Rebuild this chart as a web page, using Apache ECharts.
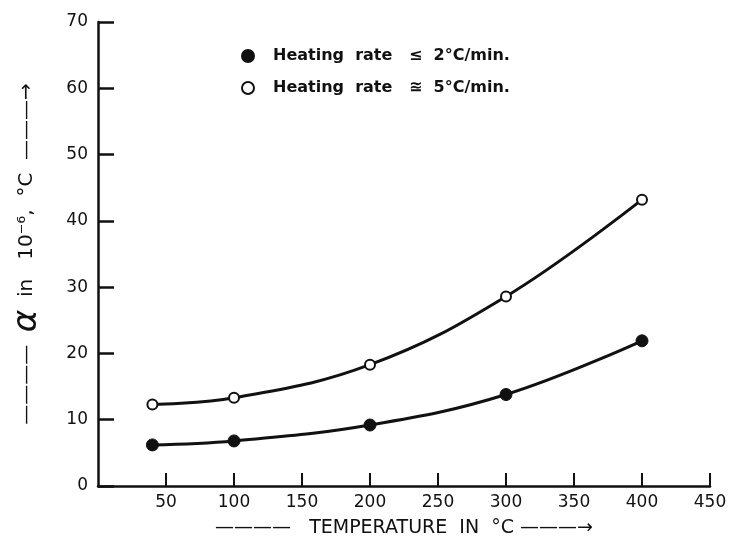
<!DOCTYPE html>
<html><head><meta charset="utf-8">
<script src="https://cdn.jsdelivr.net/npm/echarts@6/dist/echarts.min.js"></script>
<style>html,body{margin:0;padding:0;background:#fff}#c{width:733px;height:545px}</style>
</head><body><div id="c"></div>
<script>
const temps = [40, 100, 200, 300, 400];
const slowRate = [6.2, 6.8, 9.2, 13.8, 21.9];
const fastRate = [12.3, 13.3, 18.3, 28.6, 43.2];
const xTicks = [50, 100, 150, 200, 250, 300, 350, 400, 450];
const yTicks = [0, 10, 20, 30, 40, 50, 60, 70];
const seriesNames = ['Heating  rate   \u2264  2\u00B0C/min.', 'Heating  rate   \u224A  5\u00B0C/min.'];

const ink = '#111';
const font = 'DejaVu Sans';
const chart = echarts.init(document.getElementById('c'));
chart.setOption({
  backgroundColor: '#fff',
  animation: false,
  grid: { left: 98, right: 23, top: 22, bottom: 59, outerBoundsMode: 'none', containLabel: false },
  legend: {
    orient: 'vertical', left: 236, top: 43, itemGap: 16,
    icon: 'circle', itemWidth: 12, itemHeight: 12,
    textStyle: { fontFamily: font, fontSize: 16, fontWeight: 'bold', color: ink,
      padding: [0, 0, 0, 14] },
    data: seriesNames
  },
  xAxis: {
    type: 'value', min: 0, max: 450, interval: 50,
    name: '\u2014\u2014\u2014\u2014   TEMPERATURE  IN  \u00B0C \u2014\u2014\u2014\u2192',
    nameLocation: 'middle', nameGap: 33,
    nameTextStyle: { fontFamily: font, fontSize: 19, color: ink, letterSpacing: 6 },
    axisLine: { show: true, lineStyle: { color: ink, width: 2.5 } },
    axisTick: { show: true, inside: true, length: 13, lineStyle: { color: ink, width: 2 },
      customValues: xTicks },
    axisLabel: { fontFamily: font, fontSize: 17, color: ink, margin: 8,
      customValues: xTicks },
    splitLine: { show: false }
  },
  yAxis: {
    type: 'value', min: 0, max: 70, interval: 10,
    name: '\u2014\u2014\u2014\u2014  {a|\u03B1}  in   10\u207B\u2076,  \u00B0C  \u2014\u2014\u2014\u2192',
    nameLocation: 'middle', nameGap: 54, nameRotate: 90,
    nameTextStyle: { fontFamily: font, fontSize: 20, color: ink, letterSpacing: 2,
      rich: { a: { fontFamily: font, fontSize: 34, fontStyle: 'italic', color: ink } } },
    axisLine: { show: true, lineStyle: { color: ink, width: 2.5 } },
    axisTick: { show: true, inside: true, length: 16, lineStyle: { color: ink, width: 2.5 },
      customValues: yTicks },
    axisLabel: { fontFamily: font, fontSize: 17, color: ink, margin: 10, customValues: yTicks },
    splitLine: { show: false }
  },
  series: [
    {
      name: seriesNames[0], type: 'line', smooth: 0.4,
      data: temps.map((t, i) => [t, slowRate[i]]),
      symbol: 'circle', symbolSize: 12,
      itemStyle: { color: ink, borderColor: ink, borderWidth: 1 },
      lineStyle: { color: ink, width: 3 }
    },
    {
      name: seriesNames[1], type: 'line', smooth: 0.4,
      data: temps.map((t, i) => [t, fastRate[i]]),
      symbol: 'circle', symbolSize: 10,
      itemStyle: { color: '#fff', borderColor: ink, borderWidth: 2 },
      lineStyle: { color: ink, width: 3 }
    }
  ]
});
</script></body></html>
